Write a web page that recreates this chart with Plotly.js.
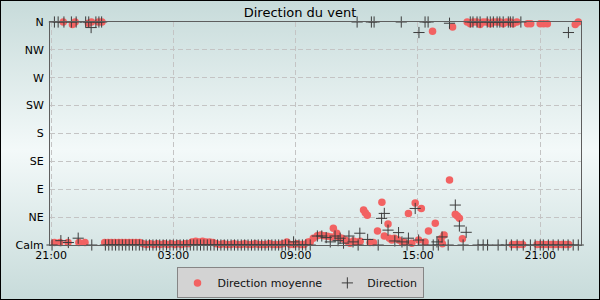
<!DOCTYPE html>
<html><head><meta charset="utf-8">
<script src="https://cdn.plot.ly/plotly-3.0.1.min.js"></script>
<style>
html,body{margin:0;padding:0;background:#fff;}
#wrap{position:relative;width:600px;height:300px;background:linear-gradient(to bottom,#c7dbda 0%,#f3f9f9 50%,#c7dbda 100%);}
#chart{position:absolute;left:0;top:0;width:600px;height:300px;}
#frame{position:absolute;left:0;top:0;width:600px;height:300px;border:1px solid #000;box-sizing:border-box;pointer-events:none;}
</style></head>
<body>
<div id="wrap"><div id="chart"></div><div id="frame"></div></div>
<script>
// minutes after 21:00 (day 1) and direction in degrees (0 = Calm, 360 = N)
const moyMinutes = [36,63,71,110,119,140,150,
 10,26,50,82,100,
 158,168,178,188,199,209,219,230,240,250,261,
 271,281,292,302,312,322,333,343,353,364,374,384,394,405,
 415,426,436,446,456,467,477,
 487,498,508,518,529,539,549,560,570,580,591,601,611,621,632,642,652,663,673,683,694,704,714,724,735,745,
 757,763,772,784,794,804,814,825,
 831,841,846,856,866,875,880,890,900,910,920,925,931,939,949,961,974,981,992,996,1003,1011,1023,1033,1040,1052,1062,1072,1082,1090,1101,1111,1123,1131,1148,1152,1157,1173,1182,1190,1196,1202,1211,
 1225,1234,1243,1253,1263,1272,1282,1293,1302,1312,1322,1331,1341,1352,1360,1371,
 1358,1368,1378,1388,1431,1441,1452,1462,1472,1483,1493,1503,1514,1524,
 1403,1412,1440,1450,1461,1543,1552];
const moyValues = [360,356,360,358,360,360,360,
 4,4,4,4,4,
 4,4,4,4,4,4,4,4,4,4,4,
 2,1,2,1,2,1,2,1,2,1,2,1,2,2,
 5,6,5,6,5,5,4,
 2,1,2,1,1,2,1,1,2,1,1,2,1,1,1,2,1,1,1,2,5,1,1,2,1,1,
 5,5,11,15,16,15,14,13,
 27,19,13,11,8,5,3,6.5,5,6,56.5,52,48,4,4,22.6,69,14.5,34,11,8,11,8,5,4,51,3,68,8,59,5,22.6,345,35,10,2,16,105,352,49.5,47,43,10,
 360,357,360,360,356,360,360,357,360,360,360,357,360,360,357,360,
 1,1,1,1,1,1,1,1,1,1,1,1,1,1,
 357,357,357,357,357,356,360];

const dirMinutes = [3,10,21,29,38,51,60,74,80,102,111,118,120,132,141,149,
 160,170,180,190,200,210,220,230,240,250,260,270,280,290,300,310,320,330,340,350,360,370,380,390,400,410,420,430,440,450,460,470,480,490,500,510,520,530,540,550,560,570,580,590,600,610,620,630,640,650,660,670,680,690,700,714,720,730,740,750,
 763,784,797,810,822,836,845,851,861,877,889,901,904,909,932,943,951,963,973,981,992,1012,1023,1031,1033,1048,1052,1072,1082,1083,1095,1101,1110,1125,1136,1140,1151,1169,1173,1190,1202,1213,1222,
 1234,1242,1254,1257,1263,1272,1284,1285,1293,1302,1313,1316,1321,1331,1340,1346,1352,1355,1360,1372,1383,1390,1411,1425,1440,1449,1464,1478,1493,1508,1522,1523,1537,1552];
const dirValues = [0,360,360,7,360,4,360,360,11,360,360,351,0,360,360,360,
 0,0,0,0,0,0,0,0,0,0,0,0,0,0,0,0,0,0,0,0,0,0,0,0,0,0,0,0,0,0,0,0,0,0,0,0,0,0,0,0,0,0,0,0,0,0,0,0,0,0,0,0,0,0,0,5,0,0,0,0,
 0,14.5,14.5,12,5,14.5,7,11,3,14.5,5,360,0,19,9,360,360,0,43,51,24,6.5,20,360,5,0,11,59,8,343,0,360,360,0,5,0,13,0,358,64.5,30.7,0,20.5,
 360,360,360,0,360,0,360,0,360,360,360,0,360,360,0,360,360,0,360,0,360,0,0,0,0,0,0,0,0,0,0,343,0,0];

const compassVals = [0,45,90,135,180,225,270,315,360];
const compassText = ['Calm','NE','E','SE','S','SW','W','NW','N'];
const seriesNames = ['Direction moyenne','Direction'];

const base = Date.UTC(2024,0,1,21,0,0);
function toDate(m){ return new Date(base + m*60000).toISOString().slice(0,19).replace('T',' '); }

const font = 'DejaVu Sans, Verdana, sans-serif';
const traces = [
 {x: moyMinutes.map(toDate), y: moyValues, name: seriesNames[0], type:'scatter', mode:'markers', cliponaxis:false,
  marker:{symbol:'circle', size:7.5, color:'#f26262'}},
 {x: dirMinutes.map(toDate), y: dirValues, name: seriesNames[1], type:'scatter', mode:'markers', cliponaxis:false,
  marker:{symbol:'cross-thin', size:8, color:'#3c3c3c', line:{width:1, color:'#3c3c3c'}}}
];
const layout = {
 width:600, height:300,
 margin:{l:50, r:19, t:22, b:55},
 paper_bgcolor:'rgba(0,0,0,0)', plot_bgcolor:'rgba(0,0,0,0)',
 font:{family:font, size:11, color:'#000'},
 title:{text:'Direction du vent', xref:'container', x:0.5, xanchor:'center', yref:'container', y:0.96, yanchor:'middle', font:{family:font, size:13, color:'#000'}},
 xaxis:{type:'date', range:['2024-01-01 20:57','2024-01-02 23:00'], tick0:'2024-01-01 21:00', dtick:6*3600000, tickformat:'%H:%M',
  showline:true, linecolor:'#5e5e5e', linewidth:1, mirror:true, ticks:'', showgrid:true, gridcolor:'#c4c4c4', griddash:'5px,3px', gridwidth:1, zeroline:false,
  tickfont:{family:font, size:11, color:'#000'}, fixedrange:true},
 yaxis:{range:[0,360], tickvals:compassVals, ticktext:compassText, showline:true, linecolor:'#5e5e5e', linewidth:1, mirror:true, ticks:'',
  showgrid:true, gridcolor:'#c4c4c4', griddash:'5px,3px', gridwidth:1, zeroline:false, ticklabelstandoff:3,
  tickfont:{family:font, size:11, color:'#000'}, fixedrange:true},
 legend:{orientation:'h', xref:'container', x:0.5, xanchor:'center', yref:'container', y:0.057, yanchor:'middle',
  bgcolor:'#d3d3d3', bordercolor:'#858585', borderwidth:1, font:{family:font, size:11, color:'#111'}},
 showlegend:true
};
Plotly.newPlot('chart', traces, layout, {displayModeBar:false, staticPlot:true});
</script>
</body></html>
